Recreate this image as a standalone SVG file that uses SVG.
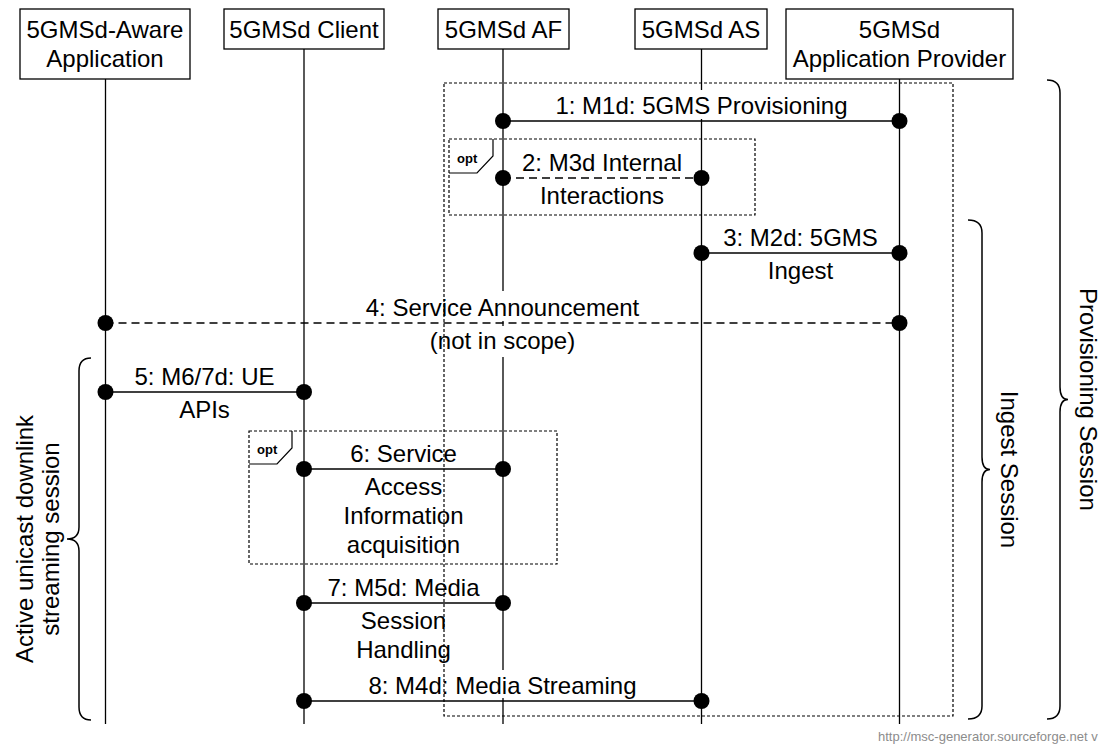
<svg xmlns="http://www.w3.org/2000/svg" width="1101" height="749" viewBox="0 0 1101 749">
<style>
  text { font-family: "Liberation Sans", Arial, sans-serif; font-size: 24px; fill: #000; }
  .c { text-anchor: middle; }
  .box { fill: #fff; stroke: #000; stroke-width: 1.3; }
  .life { fill: none; stroke: #000; stroke-width: 1.3; }
  .msg { stroke: #000; stroke-width: 1.3; fill: none; }
  .dash { stroke-dasharray: 8,5; }
  .dot { fill: #000; }
  .frame { fill: none; stroke: #000; stroke-width: 1.2; stroke-dasharray: 3,2; }
  .tag { fill: none; stroke: #000; stroke-width: 1.2; }
  .opt { font-size: 13px; font-weight: bold; }
  .brace { fill: none; stroke: #000; stroke-width: 1.5; }
  .wm { font-size: 13px; fill: #8c8c8c; }
</style>
<rect x="0" y="0" width="1101" height="749" fill="#fff"/>

<g id="aware-app">
  <rect class="box" x="20" y="9" width="170" height="70"/>
  <text class="c" x="105" y="38">5GMSd-Aware</text>
  <text class="c" x="105" y="67">Application</text>
  <path class="life" d="M105.5,79 V724"/>
</g>
<g id="client">
  <rect class="box" x="224" y="9" width="160" height="40"/>
  <text class="c" x="304" y="38">5GMSd Client</text>
  <path class="life" d="M304,49 V724"/>
</g>
<g id="af">
  <rect class="box" x="438" y="9" width="131" height="40"/>
  <text class="c" x="503.5" y="38">5GMSd AF</text>
  <path class="life" d="M503,49 V291 M503,321 V326 M503,357 V670 M503,698 V724"/>
</g>
<g id="as">
  <rect class="box" x="635" y="9" width="132" height="40"/>
  <text class="c" x="701" y="38">5GMSd AS</text>
  <path class="life" d="M701.5,49 V90 M701.5,119 V724"/>
</g>
<g id="provider">
  <rect class="box" x="786" y="9" width="227" height="70"/>
  <text class="c" x="899.5" y="38">5GMSd</text>
  <text class="c" x="899.5" y="67">Application Provider</text>
  <path class="life" d="M899.5,79 V724"/>
</g>

<g id="connectors">
  <g id="m1">
    <line class="msg" x1="503" y1="121" x2="899.5" y2="121"/>
    <circle class="dot" cx="503" cy="121" r="8"/>
    <circle class="dot" cx="899.5" cy="121" r="8"/>
    <text class="c" x="701.5" y="114">1: M1d: 5GMS Provisioning</text>
  </g>
  <g id="m2">
    <line class="msg dash" x1="503" y1="178" x2="701.5" y2="178"/>
    <circle class="dot" cx="503" cy="178" r="8"/>
    <circle class="dot" cx="701.5" cy="178" r="8"/>
    <text class="c" x="602" y="171">2: M3d Internal</text>
    <text class="c" x="602" y="204">Interactions</text>
  </g>
  <g id="m3">
    <line class="msg" x1="701.5" y1="253" x2="899.5" y2="253"/>
    <circle class="dot" cx="701.5" cy="253" r="8"/>
    <circle class="dot" cx="899.5" cy="253" r="8"/>
    <text class="c" x="800.5" y="246">3: M2d: 5GMS</text>
    <text class="c" x="800.5" y="279">Ingest</text>
  </g>
  <g id="m4">
    <line class="msg dash" x1="105.5" y1="323" x2="899.5" y2="323"/>
    <circle class="dot" cx="105.5" cy="323" r="8"/>
    <circle class="dot" cx="899.5" cy="323" r="8"/>
    <text class="c" x="502.5" y="316">4: Service Announcement</text>
    <text class="c" x="502.5" y="349">(not in scope)</text>
  </g>
  <g id="m5">
    <line class="msg" x1="105.5" y1="392" x2="304" y2="392"/>
    <circle class="dot" cx="105.5" cy="392" r="8"/>
    <circle class="dot" cx="304" cy="392" r="8"/>
    <text class="c" x="204.5" y="385">5: M6/7d: UE</text>
    <text class="c" x="204.5" y="418">APIs</text>
  </g>
  <g id="m6">
    <line class="msg" x1="304" y1="469" x2="503" y2="469"/>
    <circle class="dot" cx="304" cy="469" r="8"/>
    <circle class="dot" cx="503" cy="469" r="8"/>
    <text class="c" x="403.5" y="462">6: Service</text>
    <text class="c" x="403.5" y="495">Access</text>
    <text class="c" x="403.5" y="524">Information</text>
    <text class="c" x="403.5" y="553">acquisition</text>
  </g>
  <g id="m7">
    <line class="msg" x1="304" y1="603" x2="503" y2="603"/>
    <circle class="dot" cx="304" cy="603" r="8"/>
    <circle class="dot" cx="503" cy="603" r="8"/>
    <text class="c" x="403.5" y="596">7: M5d: Media</text>
    <text class="c" x="403.5" y="629">Session</text>
    <text class="c" x="403.5" y="658">Handling</text>
  </g>
  <g id="m8">
    <line class="msg" x1="304" y1="701" x2="701.5" y2="701"/>
    <circle class="dot" cx="304" cy="701" r="8"/>
    <circle class="dot" cx="701.5" cy="701" r="8"/>
    <text class="c" x="502.5" y="694">8: M4d: Media Streaming</text>
  </g>
</g>

<g id="frames">
  <rect class="frame" x="444" y="83" width="509" height="633"/>
  <g id="opt-2">
    <rect class="frame" x="449" y="139" width="306" height="76"/>
    <path class="tag" d="M449,173 H477 L493,156 V139"/>
    <text class="opt" x="457" y="163">opt</text>
  </g>
  <g id="opt-6">
    <rect class="frame" x="249" y="431" width="308" height="133"/>
    <path class="tag" d="M249,464 H277 L292,448 V431"/>
    <text class="opt" x="257" y="454">opt</text>
  </g>
</g>

<g id="braces">
  <g id="provisioning-session">
    <path class="brace" d="M1047,80 Q1060,80 1060,93 V387 Q1060,399.5 1068,399.5 Q1060,399.5 1060,412 V706 Q1060,719 1047,719"/>
    <text class="c" transform="translate(1080,399.5) rotate(90)">Provisioning Session</text>
  </g>
  <g id="ingest-session">
    <path class="brace" d="M968,220 Q982,220 982,233 V457 Q982,469.5 990,469.5 Q982,469.5 982,482 V706 Q982,719 968,719"/>
    <text class="c" transform="translate(1001,469.5) rotate(90)">Ingest Session</text>
  </g>
  <g id="streaming-session">
    <path class="brace" d="M91,358 Q79,358 79,371 V527 Q79,539 67,539 Q79,539 79,551 V707 Q79,720 91,720"/>
    <text class="c" transform="translate(33,539) rotate(-90)">Active unicast downlink</text>
    <text class="c" transform="translate(59,539) rotate(-90)">streaming session</text>
  </g>
</g>

<text class="wm" x="878" y="741">http://msc-generator.sourceforge.net v</text>
</svg>
